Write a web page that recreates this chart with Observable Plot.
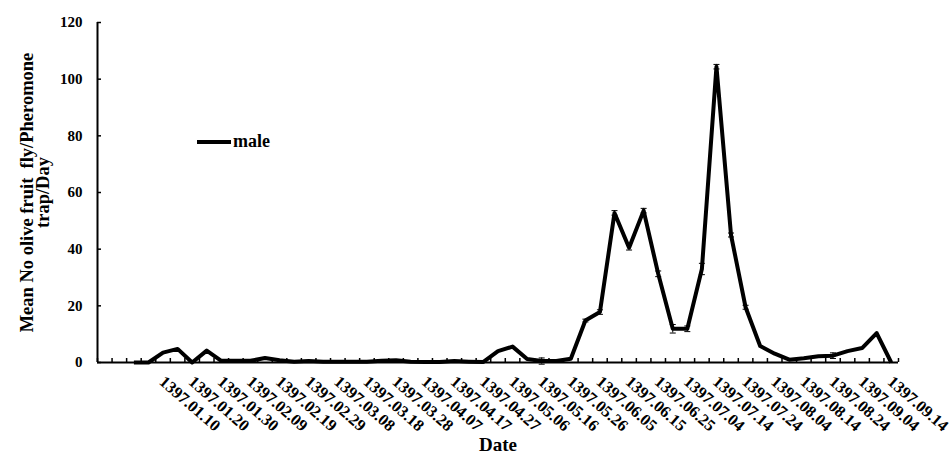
<!DOCTYPE html>
<html>
<head>
<meta charset="utf-8">
<script src="https://cdn.jsdelivr.net/npm/d3@7"></script>
<script src="https://cdn.jsdelivr.net/npm/@observablehq/plot@0.6"></script>
<style>
  html, body { margin: 0; padding: 0; background: #fff; overflow: hidden; }
  #wrap { position: relative; width: 951px; height: 460px; }
  #legend { position: absolute; left: 197px; top: 131px; display: flex; align-items: center;
            font-family: 'Liberation Serif', 'Times New Roman', serif; font-weight: bold; font-size: 18px; color: #000; }
  #legend .swatch { width: 34px; height: 4px; background: #000; margin-right: 2px; }
</style>
</head>
<body>
<div id="wrap"><div id="legend"><span class="swatch"></span><span>male</span></div></div>
<script>
// Category axis: 55 five-day slots; data starts at slot 2, labels every 2nd slot from slot 4
const categoryCount = 55;
const firstDataSlot = 2;
const firstLabelSlot = 4;

const dateLabels = [
  "1397.01.10","1397.01.20","1397.01.30","1397.02.09","1397.02.19","1397.02.29",
  "1397.03.08","1397.03.18","1397.03.28","1397.04.07","1397.04.17","1397.04.27",
  "1397.05.06","1397.05.16","1397.05.26","1397.06.05","1397.06.15","1397.06.25",
  "1397.07.04","1397.07.14","1397.07.24","1397.08.04","1397.08.14","1397.08.24",
  "1397.09.04","1397.09.14"
];

const maleValues = [
  0, 0, 3.5, 4.8, 0, 4.2, 0.6, 0.6, 0.6, 1.6,
  0.8, 0.3, 0.5, 0.3, 0.3, 0.3, 0.3, 0.6, 0.8, 0.3,
  0.2, 0.2, 0.5, 0.3, 0.2, 4.0, 5.6, 1.2, 0.5, 0.5,
  1.3, 14.8, 17.8, 52.8, 40.5, 53.6, 31.3, 11.9, 11.9, 33.0,
  104.4, 45.0, 19.5, 5.8, 3.1, 1.0, 1.5, 2.2, 2.4, 4.0,
  5.1, 10.4, 0
];

const maleErrors = [
  0, 0, 0, 0, 0, 0, 0, 0, 0, 0,
  0, 0, 0, 0, 0, 0, 0, 0, 0, 0,
  0, 0, 0, 0, 0, 0, 0, 0, 1.1, 0,
  0, 0.5, 0.8, 0.8, 0.8, 0.8, 1.0, 1.5, 1.0, 2.0,
  0.8, 0.7, 0.7, 0, 0, 0, 0, 0, 1.0, 0,
  0, 0, 0
];

const yTicks = [0, 20, 40, 60, 80, 100, 120];
const yTitle = "Mean No olive fruit  fly/Pheromone\ntrap/Day";
const xTitle = "Date";

const data = maleValues.map((v, j) => ({slot: firstDataSlot + j + 0.5, value: v, err: maleErrors[j]}));
const errData = data.filter(d => d.err > 0);
const labelSlots = dateLabels.map((_, k) => firstLabelSlot + 2 * k + 0.5);
const labelBySlot = new Map(labelSlots.map((s, k) => [s, dateLabels[k]]));
const boundaries = d3.range(0, categoryCount + 1);

const capSymbol = { draw(context, size) { const r = Math.sqrt(size / Math.PI); context.moveTo(-r, 0); context.lineTo(r, 0); } };

const chart = Plot.plot({
  width: 951,
  height: 460,
  marginLeft: 97,
  marginRight: 53,
  marginTop: 22,
  marginBottom: 98,
  style: { fontFamily: "'Liberation Serif', 'Times New Roman', serif", fontWeight: "bold", color: "#000", background: "transparent" },
  x: { domain: [0, categoryCount] },
  y: { domain: [0, 120] },
  marks: [
    Plot.axisY({ ticks: yTicks, tickSize: 0, tickPadding: 15, fontSize: 15, label: null, tickFormat: d => String(d) }),
    Plot.axisY({ ticks: yTicks, tickSize: -4, tickFormat: () => "", label: null, strokeWidth: 1.5 }),
    Plot.axisX({ ticks: boundaries, tickSize: -4, tickFormat: () => "", label: null, strokeWidth: 1.5 }),
    Plot.axisX({ ticks: labelSlots, tickFormat: d => labelBySlot.get(d), tickSize: 0, tickRotate: 41,
                 textAnchor: "start", lineAnchor: "top", tickPadding: 12, fontSize: 16.5, label: null, dx: 3 }),
    Plot.ruleY([0], { strokeWidth: 2 }),
    Plot.ruleX([0], { strokeWidth: 2 }),
    Plot.ruleX(errData, { x: "slot", y1: d => d.value - d.err, y2: d => d.value + d.err, strokeWidth: 1 }),
    Plot.dot(errData, { x: "slot", y: d => d.value + d.err, symbol: capSymbol, r: 3, stroke: "#000", strokeWidth: 1, fill: "none" }),
    Plot.dot(errData, { x: "slot", y: d => d.value - d.err, symbol: capSymbol, r: 3, stroke: "#000", strokeWidth: 1, fill: "none" }),
    Plot.line(data, { x: "slot", y: "value", stroke: "#000", strokeWidth: 4, strokeLinejoin: "round", strokeLinecap: "butt" }),
    Plot.text([xTitle], { frameAnchor: "bottom", dy: 88, fontSize: 19, text: d => d }),
    Plot.text([yTitle], { frameAnchor: "left", dx: -62, rotate: -90, textAnchor: "middle", fontSize: 18.5, lineHeight: 0.9, text: d => d })
  ]
});
document.getElementById("wrap").prepend(chart);
</script>
</body>
</html>
